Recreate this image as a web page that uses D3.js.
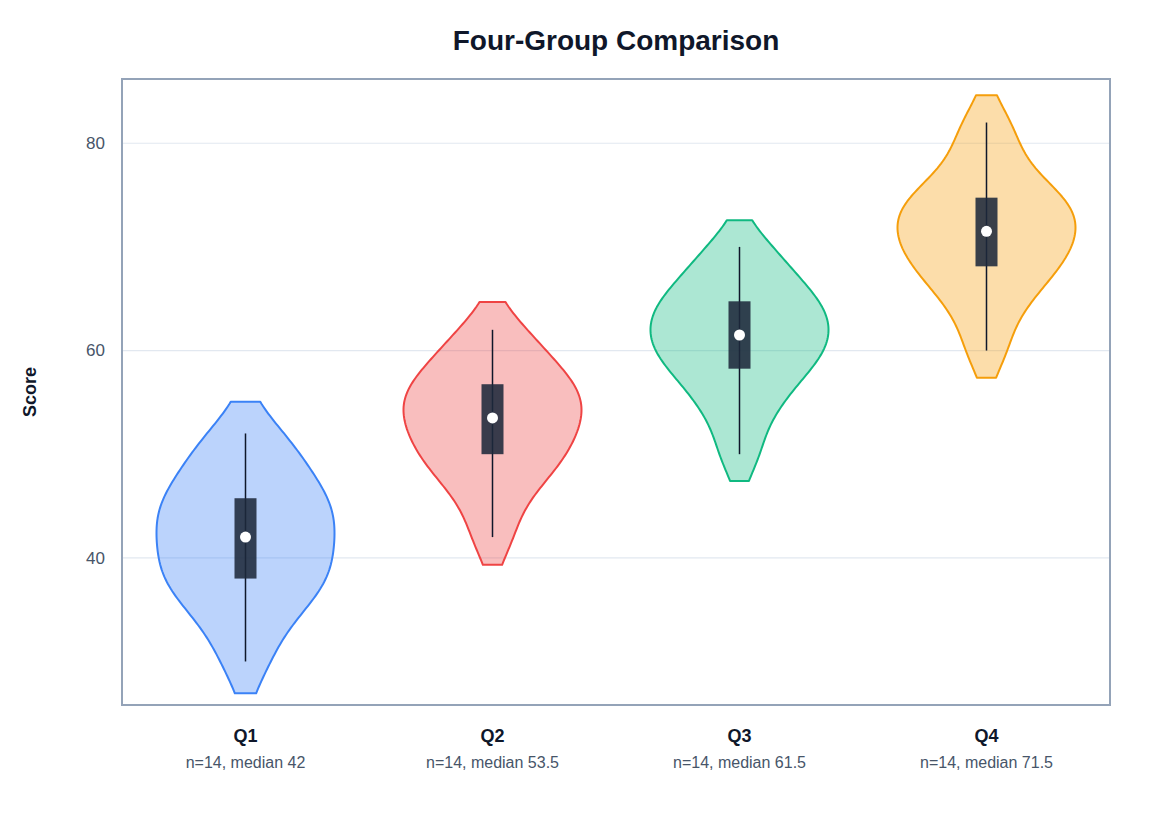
<!DOCTYPE html>
<html>
<head>
<meta charset="utf-8">
<script src="https://cdn.jsdelivr.net/npm/d3@7"></script>
<style>
  body { margin: 0; background: #fff; }
  text { font-family: "Liberation Sans", Arial, sans-serif; }
</style>
</head>
<body>
<div id="chart"></div>
<script>
const groups = ['Q1', 'Q2', 'Q3', 'Q4'];
const q1Scores = [30, 34, 36, 38, 38, 40, 41, 43, 44, 45, 46, 48, 50, 52];
const q2Scores = [42, 46, 48, 50, 50, 52, 53, 54, 55, 56, 57, 58, 60, 62];
const q3Scores = [50, 54, 56, 58, 59, 60, 61, 62, 63, 64, 65, 66, 68, 70];
const q4Scores = [60, 64, 66, 68, 68.5, 70, 71, 72, 73, 74, 75, 76, 79, 82];
const colors = ['#3b82f6', '#ef4444', '#10b981', '#f59e0b'];
const yTicks = [40, 60, 80];

const w = 1160;
const h = 821;
const margin = { top: 79, right: 50, bottom: 116, left: 122 };
const innerW = w - margin.left - margin.right;
const innerH = h - margin.top - margin.bottom;

const seriesList = [q1Scores, q2Scores, q3Scores, q4Scores];

// silverman bandwidth + gaussian kde, cut at 1 bandwidth
function stats(vals) {
  const s = vals.slice().sort(d3.ascending);
  const q1 = d3.quantile(s, 0.25), med = d3.quantile(s, 0.5), q3 = d3.quantile(s, 0.75);
  const sd = d3.deviation(s);
  const bw = 0.9 * Math.min(sd, (q3 - q1) / 1.34) * Math.pow(s.length, -0.2);
  const lo = s[0] - bw, hi = s[s.length - 1] + bw;
  const pts = d3.range(0, 121).map(i => {
    const y = lo + (hi - lo) * i / 120;
    const dens = d3.sum(s, v => Math.exp(-0.5 * ((y - v) / bw) ** 2));
    return [y, dens];
  });
  return { min: s[0], max: s[s.length - 1], q1, med, q3, n: s.length, pts };
}

const data = groups.map((g, i) => Object.assign({ name: g, color: colors[i] }, stats(seriesList[i])));

const svg = d3.select('#chart').append('svg')
  .attr('width', w)
  .attr('height', h);

const x = d3.scaleBand().domain(groups).range([margin.left, margin.left + innerW]).padding(0);
const y = d3.scaleLinear().domain([25.8, 86.2]).range([margin.top + innerH, margin.top]);

// grid
svg.append('g')
  .selectAll('line')
  .data(yTicks)
  .enter()
  .append('line')
  .attr('x1', margin.left)
  .attr('x2', margin.left + innerW)
  .attr('y1', d => y(d))
  .attr('y2', d => y(d))
  .attr('stroke', '#e2e8f0')
  .attr('stroke-width', 1.2);

const yAxis = d3.axisLeft(y).tickValues(yTicks).tickSize(0).tickPadding(17);
const yG = svg.append('g')
  .attr('transform', 'translate(' + margin.left + ',0)')
  .call(yAxis);
yG.select('.domain').remove();
yG.selectAll('text')
  .attr('font-size', 17)
  .attr('fill', '#475569')
  .style('font-family', '"Liberation Sans", Arial, sans-serif');

const halfW = 89;

data.forEach(d => {
  const cx = x(d.name) + x.bandwidth() / 2;
  const wScale = d3.scaleLinear().domain([0, d3.max(d.pts, p => p[1])]).range([0, halfW]);
  const outline = d.pts.map(p => [cx - wScale(p[1]), y(p[0])])
    .concat(d.pts.slice().reverse().map(p => [cx + wScale(p[1]), y(p[0])]));
  const gg = svg.append('g');
  gg.append('path')
    .attr('d', d3.line().curve(d3.curveLinearClosed)(outline))
    .attr('fill', d.color)
    .attr('fill-opacity', 0.35)
    .attr('stroke', d.color)
    .attr('stroke-width', 2)
    .attr('stroke-linejoin', 'round');

  gg.append('line')
    .attr('x1', cx).attr('x2', cx)
    .attr('y1', y(d.min)).attr('y2', y(d.max))
    .attr('stroke', '#0f172a')
    .attr('stroke-width', 1.5);
  gg.append('rect')
    .attr('x', cx - 11)
    .attr('width', 22)
    .attr('y', y(d.q3))
    .attr('height', y(d.q1) - y(d.q3))
    .attr('fill', '#1e293b')
    .attr('fill-opacity', 0.88);
  gg.append('circle')
    .attr('cx', cx)
    .attr('cy', y(d.med))
    .attr('r', 5.5)
    .attr('fill', '#fff');

  svg.append('text')
    .attr('x', cx)
    .attr('y', margin.top + innerH + 37)
    .attr('text-anchor', 'middle')
    .attr('font-size', 18)
    .attr('font-weight', 'bold')
    .attr('fill', '#0f172a')
    .text(d.name);
  svg.append('text')
    .attr('x', cx)
    .attr('y', margin.top + innerH + 63)
    .attr('text-anchor', 'middle')
    .attr('font-size', 16)
    .attr('fill', '#475569')
    .text('n=' + d.n + ', median ' + d.med);
});

// frame
svg.append('rect')
  .attr('x', margin.left)
  .attr('y', margin.top)
  .attr('width', innerW)
  .attr('height', innerH)
  .attr('fill', 'none')
  .attr('stroke', '#94a3b8')
  .attr('stroke-width', 2);

svg.append('text')
  .attr('x', margin.left + innerW / 2)
  .attr('y', 50)
  .attr('text-anchor', 'middle')
  .attr('font-size', 28)
  .attr('font-weight', 'bold')
  .attr('fill', '#0f172a')
  .text('Four-Group Comparison');

svg.append('text')
  .attr('transform', 'translate(36,' + (margin.top + innerH / 2) + ') rotate(-90)')
  .attr('text-anchor', 'middle')
  .attr('font-size', 18)
  .attr('font-weight', 'bold')
  .attr('fill', '#0f172a')
  .text('Score');
</script>
</body>
</html>
